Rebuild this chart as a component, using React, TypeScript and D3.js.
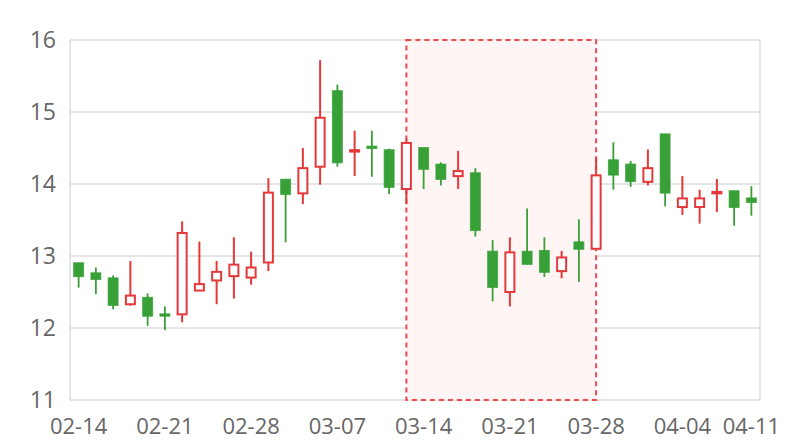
import React from "react";
import * as d3 from "d3";

const dates = [
  "02-14","02-15","02-16","02-17","02-18",
  "02-21","02-22","02-23","02-24","02-25",
  "02-28","03-01","03-02","03-03","03-04",
  "03-07","03-08","03-09","03-10","03-11",
  "03-14","03-15","03-16","03-17","03-18",
  "03-21","03-22","03-23","03-24","03-25",
  "03-28","03-29","03-30","03-31","04-01",
  "04-04","04-06","04-07","04-08","04-11",
];
const openVals = [
  12.90,12.76,12.69,12.33,12.42, 12.19,12.19,12.52,12.66,12.72,
  12.70,12.91,14.06,13.87,14.24, 15.29,14.45,14.52,14.47,13.93,
  14.50,14.27,14.11,14.15,13.06, 12.50,13.06,13.07,12.79,13.19,
  13.10,14.33,14.27,14.03,14.69, 13.68,13.68,13.87,13.90,13.80,
];
const closeVals = [
  12.72,12.68,12.32,12.45,12.17, 12.17,13.32,12.61,12.78,12.88,
  12.84,13.88,13.86,14.22,14.92, 14.30,14.47,14.50,13.96,14.57,
  14.21,14.07,14.18,13.36,12.57, 13.05,12.89,12.78,12.98,13.10,
  14.12,14.13,14.04,14.22,13.88, 13.80,13.80,13.89,13.68,13.75,
];
const lowVals = [
  12.56,12.47,12.26,12.31,12.03, 11.97,12.08,12.52,12.33,12.41,
  12.60,12.79,13.19,13.72,13.99, 14.24,14.11,14.10,13.86,13.72,
  13.93,13.98,13.93,13.27,12.37, 12.30,12.88,12.71,12.69,12.64,
  13.10,13.92,13.96,13.98,13.69, 13.57,13.45,13.61,13.42,13.56,
];
const highVals = [
  12.90,12.84,12.73,12.93,12.48, 12.30,13.48,13.20,12.93,13.26,
  13.06,14.08,14.06,14.50,15.72, 15.38,14.74,14.74,14.49,14.63,
  14.50,14.30,14.46,14.22,13.22, 13.26,13.66,13.26,13.07,13.51,
  14.37,14.58,14.32,14.48,14.69, 14.11,13.92,14.07,13.90,13.97,
];
const xTickLabels = ["02-14","02-21","02-28","03-07","03-14","03-21","03-28","04-04","04-11"];
const yTicks = [11, 12, 13, 14, 15, 16];
const markAreaRange = ["03-11", "03-28"];

const W = 800, H = 440;
const left = 70, right = 760, top = 40, bottom = 400;
const UP = "#e5383b";
const DOWN = "#37a037";
const FONT = "'Open Sans', 'Noto Sans', sans-serif";

export default function App() {
  const x = d3.scaleBand<string>().domain(dates).range([left, right]).paddingInner(0).paddingOuter(0);
  const y = d3.scaleLinear().domain([11, 16]).range([bottom, top]);
  const cx = (d: string) => (x(d) as number) + x.bandwidth() / 2;
  const bodyW = 10;

  const ma0 = cx(markAreaRange[0]);
  const ma1 = cx(markAreaRange[1]);

  return (
    <svg width={W} height={H} style={{ position: "absolute", left: 0, top: 0, background: "#fff" }} fontFamily={FONT}>
      {yTicks.map((t) => (
        <line key={"g" + t} x1={left} x2={right} y1={y(t)} y2={y(t)} stroke="#cccccc" strokeWidth={1} />
      ))}
      <line x1={left} x2={left} y1={top} y2={bottom} stroke="#cccccc" strokeWidth={1} />
      <line x1={right} x2={right} y1={top} y2={bottom} stroke="#cccccc" strokeWidth={1} />
      <rect x={ma0} y={top} width={ma1 - ma0} height={bottom - top} fill="#fff5f5" stroke="#ef4b4f" strokeWidth={2} strokeDasharray="5,4" />
      {yTicks.map((t) => (
        <text key={"yl" + t} x={56} y={y(t)} dy="0.36em" textAnchor="end" fontSize={23} fill="#666">{t}</text>
      ))}
      {xTickLabels.map((d) => (
        <text key={"xl" + d} x={cx(d)} y={426} dy="0.36em" textAnchor="middle" fontSize={22} fill="#666">{d}</text>
      ))}
      {dates.map((d, i) => {
        const o = openVals[i], c = closeVals[i], lo = lowVals[i], hi = highVals[i];
        const up = c >= o;
        const col = up ? UP : DOWN;
        const yt = y(Math.max(o, c));
        const yb = y(Math.min(o, c));
        const xc = cx(d);
        return (
          <g key={d}>
            <line x1={xc} x2={xc} y1={y(hi)} y2={y(lo)} stroke={col} strokeWidth={up ? 2 : 1.8} />
            {up ? (
              <rect x={xc - bodyW / 2 + 0.5} y={yt} width={bodyW - 1} height={Math.max(yb - yt, 0.5)} fill="#fff" stroke={col} strokeWidth={2} />
            ) : (
              <rect x={xc - bodyW / 2} y={yt - 0.5} width={bodyW} height={Math.max(yb - yt, 1) + 1} fill={col} stroke={col} strokeWidth={1} strokeOpacity={0.7} />
            )}
          </g>
        );
      })}
    </svg>
  );
}
